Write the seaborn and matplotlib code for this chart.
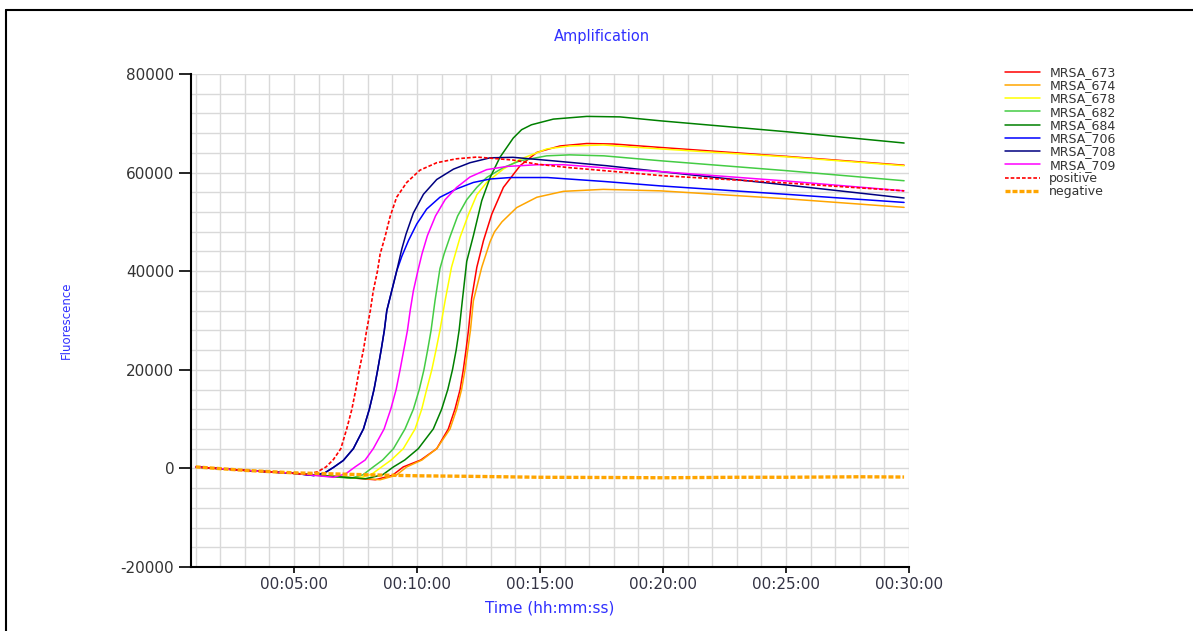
import numpy as np
import pandas as pd
import seaborn as sns
import matplotlib.pyplot as plt
from matplotlib.ticker import MultipleLocator, FuncFormatter
from matplotlib.lines import Line2D

# Amplification curves, time in minutes, fluorescence
t_673 = [1.0, 3.0, 5.0, 8.3, 9.0, 9.44, 10.15, 10.8, 11.27, 11.54, 11.75, 11.88, 11.99, 12.09, 12.22, 12.43,
         12.70, 13.04, 13.51, 14.19, 14.87, 15.81, 16.9, 17.98, 19.9, 25.0, 29.8]
f_673 = [300, -400, -1000, -2300, -1400, 300, 1700, 4000, 8000, 12000, 16000, 20000, 24000, 28000, 34500, 40800,
         46200, 51600, 57000, 61400, 64100, 65400, 65900, 65800, 65100, 63300, 61500]

t_674 = [1.0, 3.0, 5.0, 8.5, 9.15, 9.58, 10.2, 10.8, 11.34, 11.61, 11.81, 11.95, 12.06, 12.17, 12.29, 12.63,
         12.97, 13.15, 13.45, 14.05, 14.87, 15.95, 17.57, 19.9, 25.0, 29.8]
f_674 = [300, -400, -1000, -2300, -1400, 300, 1700, 4000, 8000, 12000, 16000, 20000, 24000, 28000, 34000, 40800,
         46000, 48000, 50000, 52900, 55000, 56200, 56600, 56300, 54700, 52950]

t_678 = [1.0, 3.0, 5.0, 7.6, 8.15, 8.56, 8.95, 9.44, 9.92, 10.19, 10.39, 10.60, 10.77, 10.93, 11.14, 11.4,
         11.75, 12.09, 12.43, 12.83, 13.5, 14.19, 15.27, 16.2, 17.57, 19.9, 25.0, 29.8]
f_678 = [300, -400, -1000, -2000, -1200, 300, 1700, 4000, 8000, 12000, 16000, 20000, 24000, 28000, 34000, 40800,
         46900, 51500, 55500, 58000, 60700, 62700, 64800, 65400, 65600, 64800, 63200, 61400]

t_682 = [1.0, 3.0, 5.0, 7.3, 7.8, 8.22, 8.6, 9.04, 9.51, 9.85, 10.09, 10.28, 10.43, 10.57, 10.73, 10.93,
         11.1, 11.34, 11.65, 12.02, 12.43, 12.83, 13.5, 14.19, 15.27, 16.2, 17.6, 19.9, 25.0, 29.8]
f_682 = [300, -400, -1000, -2000, -1300, 300, 1700, 4000, 8000, 12000, 16000, 20000, 24000, 28000, 34000, 40500,
         43500, 47000, 51200, 54500, 57000, 59000, 61000, 62400, 63400, 63600, 63400, 62400, 60400, 58350]

t_684 = [1.0, 3.0, 5.0, 7.9, 8.6, 9.04, 9.5, 10.05, 10.66, 11.0, 11.25, 11.44, 11.59, 11.71, 11.84, 12.02,
         12.29, 12.63, 12.97, 13.37, 13.91, 14.25, 14.65, 15.54, 16.9, 18.25, 19.9, 25.0, 29.8]
f_684 = [300, -400, -1000, -2100, -1300, 300, 1700, 4000, 8000, 12000, 16000, 20000, 24000, 28000, 34000, 42000,
         47200, 54300, 59000, 63100, 67000, 68700, 69700, 70850, 71400, 71300, 70500, 68300, 66000]

t_706 = [1.0, 3.0, 5.0, 5.8, 6.25, 6.6, 7.0, 7.41, 7.82, 8.06, 8.25, 8.40, 8.54, 8.67, 8.77, 8.97,
         9.17, 9.38, 9.65, 9.99, 10.39, 10.93, 11.61, 12.29, 12.97, 13.8, 15.3, 17.6, 19.9, 25.0, 29.8]
f_706 = [300, -400, -1000, -1450, -900, 200, 1600, 4000, 8000, 12000, 16000, 20000, 24000, 28000, 32000, 36000,
         40000, 43000, 46200, 49600, 52600, 55000, 56700, 58000, 58700, 59000, 59000, 58200, 57300, 55600, 53950]

t_708 = [1.0, 3.0, 5.0, 5.8, 6.25, 6.6, 7.0, 7.41, 7.82, 8.06, 8.25, 8.40, 8.54, 8.67, 8.77, 8.97,
         9.17, 9.38, 9.55, 9.85, 10.26, 10.8, 11.48, 12.15, 12.97, 13.9, 15.5, 17.7, 19.9, 25.0, 29.8]
f_708 = [300, -400, -1000, -1450, -900, 200, 1600, 4000, 8000, 12000, 16000, 20000, 24000, 28000, 32000, 36000,
         40000, 44500, 47500, 51800, 55600, 58600, 60700, 62000, 63000, 63100, 62400, 61400, 60200, 57500, 54850]

t_709 = [1.0, 3.0, 5.0, 6.6, 7.1, 7.48, 7.89, 8.22, 8.66, 8.93, 9.15, 9.31, 9.46, 9.61, 9.72, 9.85,
         10.03, 10.2, 10.42, 10.75, 11.14, 11.61, 12.15, 12.83, 13.65, 14.9, 15.95, 16.9, 18.25, 19.9, 25.0, 29.8]
f_709 = [300, -400, -1000, -1800, -1100, 300, 1700, 4000, 8000, 12000, 16000, 20000, 24000, 28000, 32000, 36000,
         40000, 43500, 47200, 51200, 54500, 57000, 59100, 60600, 61250, 61600, 61600, 61250, 60700, 60200, 58300, 56300]

t_pos = [1.0, 3.0, 5.0, 5.5, 5.95, 6.3, 6.6, 6.9, 7.14, 7.35, 7.51, 7.65, 7.82, 7.95, 8.1, 8.22, 8.39,
         8.5, 8.7, 8.9, 9.17, 9.58, 10.12, 10.8, 11.6, 12.43, 13.9, 14.9, 16.2, 17.6, 19.9, 25.0, 29.8]
f_pos = [300, -400, -1000, -1200, -700, 300, 1800, 4000, 8000, 12000, 16000, 20000, 24000, 28000, 32000, 36000, 40000,
         43500, 47000, 51000, 55000, 58000, 60500, 62000, 62800, 63150, 62550, 61700, 61000, 60400, 59400, 57900, 56300]

t_neg = [1.0, 3.0, 5.0, 8.0, 10.0, 12.0, 15.0, 18.0, 20.0, 23.0, 25.0, 28.0, 29.8]
f_neg = [300, -400, -900, -1300, -1500, -1600, -1800, -1850, -1900, -1800, -1800, -1700, -1750]

names = ["MRSA_673", "MRSA_674", "MRSA_678", "MRSA_682", "MRSA_684",
         "MRSA_706", "MRSA_708", "MRSA_709", "positive", "negative"]
times = [t_673, t_674, t_678, t_682, t_684, t_706, t_708, t_709, t_pos, t_neg]
fluor = [f_673, f_674, f_678, f_682, f_684, f_706, f_708, f_709, f_pos, f_neg]
colors = ["#ff0000", "#ffa500", "#ffff00", "#44cc44", "#008000",
          "#0000ff", "#000080", "#ff00ff", "#ff0000", "#ffa500"]

df = pd.concat(
    [pd.DataFrame({"time": t, "fluor": f, "sample": n}) for n, t, f in zip(names, times, fluor)],
    ignore_index=True,
)

sns.set_theme(style="white")
plt.rcParams["font.family"] = ["DejaVu Sans"]
plt.rcParams["axes.unicode_minus"] = False

fig = plt.figure(figsize=(11.93, 6.31), dpi=100)
ax = fig.add_axes([191 / 1193, 1 - 567 / 631, 718 / 1193, 493 / 631])

for name, col in zip(names, colors):
    sub = df[df["sample"] == name]
    if name == "positive":
        ls, lw = (0, (2.2, 1.2)), 1.2
    elif name == "negative":
        ls, lw = (0, (1.5, 0.6)), 2.4
    else:
        ls, lw = "-", 1.1
    sns.lineplot(data=sub, x="time", y="fluor", ax=ax, color=col, lw=lw,
                 linestyle=ls, label=name, errorbar=None)

ax.set_xlim(0.81, 30.0)
ax.set_ylim(-20000, 80000)
ax.xaxis.set_major_locator(MultipleLocator(5))
ax.xaxis.set_minor_locator(MultipleLocator(1))
ax.yaxis.set_major_locator(MultipleLocator(20000))
ax.yaxis.set_minor_locator(MultipleLocator(4000))
ax.xaxis.set_major_formatter(FuncFormatter(lambda v, p: "00:%02d:%02d" % (int(v), round((v % 1) * 60))))
ax.grid(which="both", color="#d9d9d9", lw=1.0)
ax.set_axisbelow(True)

for s in ["top", "right"]:
    ax.spines[s].set_visible(False)
for s in ["left", "bottom"]:
    ax.spines[s].set_color("black")
    ax.spines[s].set_linewidth(1.5)

ax.tick_params(which="minor", length=0)
ax.tick_params(axis="y", which="major", direction="out", length=9, width=1.2, color="black",
               labelsize=11, labelcolor="#333333", pad=3, left=True)
ax.tick_params(axis="x", which="major", direction="out", length=4, width=1.2, color="black",
               labelsize=11, labelcolor="#333344", pad=3, bottom=True)

ax.set_xlabel("Time (hh:mm:ss)", color="#3030ff", fontsize=11)
ax.xaxis.set_label_coords(0.5, -0.068)
ax.set_ylabel("Fluorescence", color="#3030ff", fontsize=8.5)
ax.yaxis.set_label_coords(-0.164, 0.5)

fig.text(602 / 1193, 1 - 37 / 631, "Amplification", ha="center", va="center",
         color="#3030ff", fontsize=10.5)

ax.legend(loc="upper left", bbox_to_anchor=(1005 / 1193, 1 - 66 / 631),
          bbox_transform=fig.transFigure, frameon=False, fontsize=9,
          handlelength=2.8, handletextpad=0.75, labelspacing=0.02,
          borderpad=0, borderaxespad=0, labelcolor="#333333")

# frame lines at the top and left of the picture
fig.add_artist(Line2D([6 / 1193, 1.0], [1 - 10 / 631] * 2, transform=fig.transFigure, color="black", lw=1.5))
fig.add_artist(Line2D([6 / 1193] * 2, [0.0, 1 - 10 / 631], transform=fig.transFigure, color="black", lw=1.5))

fig.savefig("out.png", dpi=100)
